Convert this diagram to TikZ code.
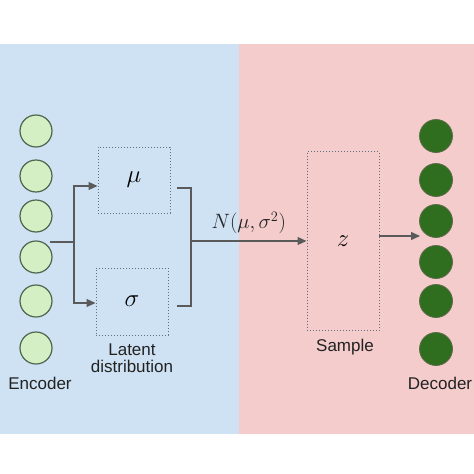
\documentclass[tikz,border=0pt]{standalone}
\usepackage{fontspec}
\setmainfont{Liberation Sans}
\usetikzlibrary{arrows.meta}
\definecolor{bgblue}{HTML}{CFE2F3}
\definecolor{bgpink}{HTML}{F4CCCC}
\definecolor{encfill}{HTML}{D3EFC3}
\definecolor{encdraw}{HTML}{4E6650}
\definecolor{decfill}{HTML}{2F6E1F}
\definecolor{decdraw}{HTML}{5E6A4A}
\definecolor{boxdraw}{HTML}{5F6E80}
\definecolor{linecol}{HTML}{5A5A5A}
\definecolor{textcol}{HTML}{222222}
\begin{document}
\begin{tikzpicture}[x=1pt,y=-1pt,
  enc/.style={circle,draw=encdraw,fill=encfill,line width=1.2pt,minimum size=32pt,inner sep=0pt},
  dec/.style={circle,draw=decdraw,fill=decfill,line width=0.8pt,minimum size=33pt,inner sep=0pt},
  dbox/.style={draw=boxdraw,dotted,line width=1pt,minimum width=72pt,inner sep=0pt,font=\fontsize{25}{27}\selectfont},
  conn/.style={draw=linecol,line width=1.2pt},
  arr/.style={conn,-{Triangle[length=9pt,width=8pt]}},
  lbl/.style={text=textcol,font=\fontsize{17}{19}\selectfont,inner sep=0pt,align=center}]
\useasboundingbox (0,0) rectangle (474,474);
\fill[bgblue] (0,44) rectangle (239,434);
\fill[bgpink] (239,44) rectangle (474,434);
% encoder
\node[enc] (e1) at (36,131) {};
\node[enc] (e2) at (36,176) {};
\node[enc] (e3) at (36,216) {};
\node[enc] (e4) at (36,257) {};
\node[enc] (e5) at (36,301) {};
\node[enc] (e6) at (36,348) {};
\node[lbl] (enclbl) at (40,383) {Encoder};
% decoder
\node[dec] (d1) at (436,136) {};
\node[dec] (d2) at (436,180) {};
\node[dec] (d3) at (436,221) {};
\node[dec] (d4) at (436,262) {};
\node[dec] (d5) at (436,301) {};
\node[dec] (d6) at (436,349) {};
\node[lbl] (declbl) at (440,383) {Decoder};
% latent boxes
\node[dbox,minimum height=66pt] (mu) at (134,180) {$\mu$};
\node[dbox,minimum height=67pt] (sig) at (132,301.5) {$\sigma$};
\node[lbl] (latlbl) at (132,358) {Latent\\[-2pt]distribution};
\node[dbox,minimum height=179pt] (z) at (343,241) {$z$};
\node[lbl] (samplbl) at (345,347) {Sample};
% connectors
\coordinate (src) at (50,242);
\coordinate (jl) at (74,242);
\coordinate (amu) at (74,186);
\coordinate (asig) at (74,303);
\draw[conn] (src) -- (jl);
\draw[arr] (jl) -- (amu) -- (amu -| mu.west);
\draw[arr] (jl) -- (asig) -- (asig -| sig.west);
\coordinate (rmu) at (177,188);
\coordinate (rsig) at (177,306);
\coordinate (jr) at (191,241);
\draw[conn] (rmu) -- (rmu -| jr) -- (rsig -| jr) -- (rsig);
\draw[arr] (jr) -- (z.west) node[pos=0.5,above=3pt,font=\fontsize{21}{23}\selectfont,text=textcol] (nlbl) {$N(\mu,\sigma^2)$};
\coordinate (zout) at (379,236);
\coordinate (dtip) at (420,236);
\draw[arr] (zout) -- (dtip);
\end{tikzpicture}
\end{document}
